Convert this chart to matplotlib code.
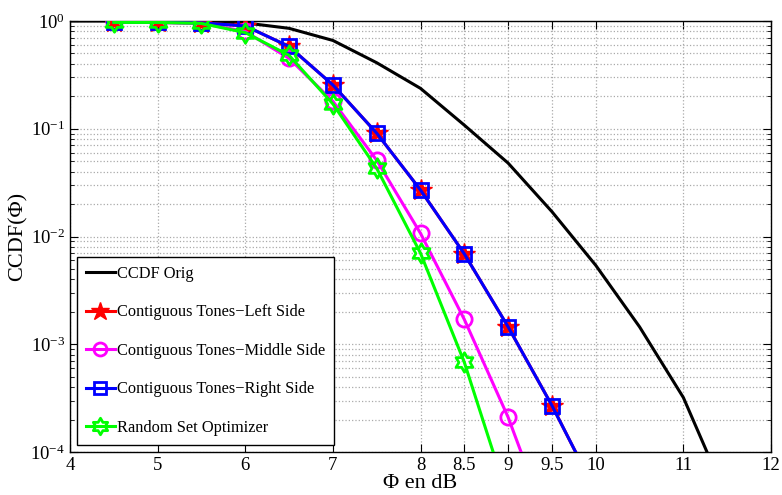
import numpy as np
import matplotlib
matplotlib.use("Agg")
import matplotlib.pyplot as plt
from matplotlib.path import Path

plt.rcParams['font.family'] = ['Liberation Serif', 'DejaVu Serif']
plt.rcParams['mathtext.fontset'] = 'stix'

# Data
x_orig = [4, 4.5, 5, 5.5, 6, 6.5, 7, 7.5, 8, 8.5, 9, 9.5, 10, 10.5, 11, 11.5]
ccdf_orig = [1.0, 1.0, 1.0, 0.99, 0.96, 0.855, 0.66, 0.41, 0.237, 0.108, 0.048,
             0.017, 0.0054, 0.00145, 3.2e-4, 3.7e-5]

x_sel = [4.5, 5, 5.5, 6, 6.5, 7, 7.5, 8, 8.5, 9, 9.5, 10]
ccdf_left = [0.97, 0.97, 0.96, 0.9, 0.58, 0.255, 0.091, 0.027, 0.0069, 0.00145, 2.7e-4, 4.3e-5]
ccdf_right = [0.97, 0.97, 0.96, 0.9, 0.58, 0.255, 0.091, 0.027, 0.0069, 0.00145, 2.7e-4, 4.3e-5]
ccdf_middle = [0.97, 0.97, 0.95, 0.8, 0.45, 0.18, 0.051, 0.0107, 0.0017, 2.1e-4, 1.7e-5, 1e-6]
ccdf_random = [0.97, 0.97, 0.95, 0.78, 0.48, 0.17, 0.043, 0.007, 6.8e-4, 3.7e-5, 1e-6, 1e-7]

xticks = [4, 5, 6, 7, 8, 8.5, 9, 9.5, 10, 11, 12]
xticklabels = ['4', '5', '6', '7', '8', '8.5', '9', '9.5', '10', '11', '12']

labels = ['CCDF Orig', 'Contiguous Tones\u2212Left Side', 'Contiguous Tones\u2212Middle Side',
          'Contiguous Tones\u2212Right Side', 'Random Set Optimizer']

# hexagram marker
ang_o = np.deg2rad(90 + np.arange(6) * 60)
ang_i = ang_o + np.deg2rad(30)
r_i = 1 / np.sqrt(3)
verts = []
for ao, ai in zip(ang_o, ang_i):
    verts.append((np.cos(ao), np.sin(ao)))
    verts.append((r_i * np.cos(ai), r_i * np.sin(ai)))
verts.append(verts[0])
hexagram = Path(verts, [Path.MOVETO] + [Path.LINETO] * 11 + [Path.CLOSEPOLY])

fig = plt.figure(figsize=(7.82, 4.95), dpi=100)
ax = fig.add_axes([70 / 782, 43 / 495, 701 / 782, 431 / 495])

ax.semilogy(x_orig, ccdf_orig, color='black', lw=2.2, label=labels[0], zorder=3)
ax.semilogy(x_sel, ccdf_left, color='red', lw=2.2, marker='*', ms=16, mfc='red', mec='red',
            label=labels[1], zorder=4)
ax.semilogy(x_sel, ccdf_middle, color='magenta', lw=2.2, marker='o', ms=11, mfc='none',
            mec='magenta', mew=2, label=labels[2], zorder=5)
ax.semilogy(x_sel, ccdf_right, color='blue', lw=2.2, marker='s', ms=10, mfc='none',
            mec='blue', mew=2, label=labels[3], zorder=6)
ax.semilogy(x_sel, ccdf_random, color='#00ff00', lw=2.2, marker=hexagram, ms=14, mfc='none',
            mec='#00ff00', mew=2, label=labels[4], zorder=7)

ax.set_xlim(4, 12)
ax.set_ylim(1e-4, 1)
ax.set_xticks(xticks)
ax.set_xticklabels(xticklabels)
ax.grid(True, which='major', linestyle=':', color='#aaaaaa', lw=0.9)
ax.grid(True, which='minor', axis='y', linestyle=':', color='#aaaaaa', lw=0.9)
ax.tick_params(which='both', direction='in', top=True, right=True, labelsize=13.5)
ax.tick_params(which='major', length=6)
ax.tick_params(which='minor', length=3)
for s in ax.spines.values():
    s.set_linewidth(1.0)

ax.set_xlabel('\u03a6 en dB', fontsize=16, labelpad=0)
ax.set_ylabel('CCDF(\u03a6)', fontsize=16, labelpad=2)

leg = ax.legend(loc='lower left', fontsize=11.8, fancybox=False, edgecolor='black',
                framealpha=1, labelspacing=1.38, handlelength=1.75, handletextpad=0.15,
                borderpad=0.55, borderaxespad=0, bbox_to_anchor=(0.01, 0.016),
                markerscale=0.85)
leg.get_frame().set_linewidth(1.0)

fig.savefig('out.png', dpi=100)
